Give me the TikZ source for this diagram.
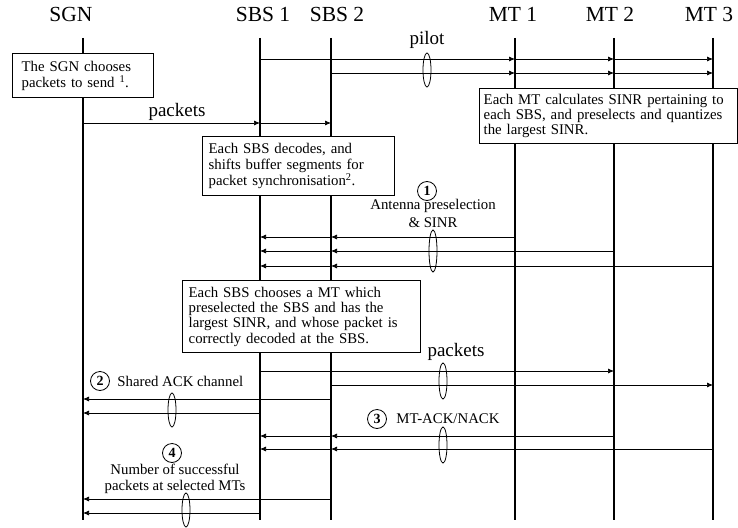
\documentclass[tikz,border=0pt]{standalone}
\usepackage{fontspec}
\setmainfont{Liberation Serif}
\usetikzlibrary{arrows.meta, positioning, calc}

\begin{document}
\begin{tikzpicture}[x=1pt, y=-1pt,
  lifeline/.style={line width=2.6pt},
  msg/.style={line width=0.7pt, -{Latex[length=6pt,width=5pt]}},
  infobox/.style={draw, line width=1.4pt, fill=white, anchor=north west, align=left, inner xsep=6pt, inner ysep=2pt, font=\fontsize{14.8}{15.2}\selectfont},
  head/.style={font=\fontsize{21.5}{24}\selectfont},
  lbl/.style={font=\fontsize{19}{21}\selectfont},
  small/.style={font=\fontsize{14.8}{16}\selectfont},
  stepno/.style={draw, circle, line width=0.8pt, minimum size=19pt, inner sep=0pt, font=\fontsize{14}{14}\selectfont\bfseries},
  bundle/.style={line width=0.8pt}]

\useasboundingbox (0,0) rectangle (738,527);

% entities
\node[head] (sgnH) at (71,14) {SGN};
\node[head] (sbsAH) at (263,14) {SBS 1};
\node[head] (sbsBH) at (337,14) {SBS 2};
\node[head] (mtAH) at (513,14) {MT 1};
\node[head] (mtBH) at (610,14) {MT 2};
\node[head] (mtCH) at (709,14) {MT 3};

% lifelines
\coordinate (sgn) at (83,38);
\coordinate (sbsA) at (260,38);
\coordinate (sbsB) at (331,38);
\coordinate (mtA) at (515,38);
\coordinate (mtB) at (614,38);
\coordinate (mtC) at (713,38);
\coordinate (bot) at (0,520);
\foreach \e in {sgn, sbsA, sbsB, mtA, mtB, mtC}
  \draw[lifeline] (\e) -- (\e |- bot);

% boxes
\node[infobox, inner xsep=9pt, text width=123pt, minimum height=44pt, font=\fontsize{14.8}{16}\selectfont] (sgnBox) at (12,53)
  {The SGN chooses\\packets to send \textsuperscript{1}.};
\node[infobox, text width=180pt, minimum height=59pt] (decBox) at (202,136)
  {Each SBS decodes, and\\shifts buffer segments for\\packet synchronisation\textsuperscript{2}.};
\node[infobox, inner xsep=4pt, text width=250pt, minimum height=55pt] (mtBox) at (479,88)
  {Each MT calculates SINR pertaining to\\each SBS, and preselects and quantizes\\the largest SINR.};
\node[infobox, text width=226pt, minimum height=72pt] (selBox) at (182,280)
  {Each SBS chooses a MT which\\preselected the SBS and has the\\largest SINR, and whose packet is\\correctly decoded at the SBS.};

% pilot
\coordinate (pA) at (0,59);
\coordinate (pB) at (0,73);
\foreach \r/\s in {pA/sbsA, pB/sbsB} {
  \draw[msg] (\s |- \r) -- (mtA |- \r);
  \draw[msg] (mtA |- \r) -- (mtB |- \r);
  \draw[msg] (mtB |- \r) -- (mtC |- \r);
}
\node[lbl] (pilotL) at (427,40) {pilot};
\draw[bundle] (427,70) ellipse (4 and 17);

% packets to the SBSs
\coordinate (kA) at (0,123);
\draw[msg] (sgn |- kA) -- (sbsA |- kA);
\draw[msg] (sbsA |- kA) -- (sbsB |- kA);
\node[lbl] (pktL) at (177,112) {packets};

% step 1: antenna preselection
\coordinate (aA) at (0,237);
\coordinate (aB) at (0,251);
\coordinate (aC) at (0,266);
\foreach \r/\s in {aA/mtA, aB/mtB, aC/mtC} {
  \draw[msg] (\s |- \r) -- (sbsB |- \r);
  \draw[msg] (sbsB |- \r) -- (sbsA |- \r);
}
\node[small] (n1a) at (433,206) {Antenna preselection};
\node[small] (n1b) at (433,223) {\& SINR};
\node[stepno] (n1) at (427,191) {1};
\draw[bundle] (433,251) ellipse (4 and 21);

% packets to the MTs
\coordinate (dA) at (0,371);
\coordinate (dB) at (0,385);
\draw[msg] (sbsA |- dA) -- (mtB |- dA);
\draw[msg] (sbsB |- dB) -- (mtC |- dB);
\node[lbl] (pktL2) at (456,352) {packets};
\draw[bundle] (443,381) ellipse (4 and 18);

% step 2: shared ACK
\coordinate (sA) at (0,399);
\coordinate (sB) at (0,413);
\draw[msg] (sbsB |- sA) -- (sgn |- sA);
\draw[msg] (sbsA |- sB) -- (sgn |- sB);
\node[stepno] (n2) at (100,381) {2};
\node[small, right=4pt of n2] (n2L) {Shared ACK channel};
\draw[bundle] (172,410) ellipse (4 and 17);

% step 3: MT-ACK/NACK
\coordinate (tA) at (0,436);
\coordinate (tB) at (0,449);
\foreach \r/\s in {tA/mtB, tB/mtC} {
  \draw[msg] (\s |- \r) -- (sbsB |- \r);
  \draw[msg] (sbsB |- \r) -- (sbsA |- \r);
}
\node[stepno] (n3) at (377,419) {3};
\node[small, right=6pt of n3] (n3L) {MT-ACK/NACK};
\draw[bundle] (443,445) ellipse (4 and 18);

% step 4: number of successful packets
\coordinate (uA) at (0,499);
\coordinate (uB) at (0,513);
\draw[msg] (sbsB |- uA) -- (sgn |- uA);
\draw[msg] (sbsA |- uB) -- (sgn |- uB);
\node[small] (n4a) at (175,469) {Number of successful};
\node[small] (n4b) at (175,487) {packets at selected MTs};
\node[stepno] (n4) at (172,453) {4};
\draw[bundle] (186,510) ellipse (4 and 17);

\end{tikzpicture}
\end{document}
